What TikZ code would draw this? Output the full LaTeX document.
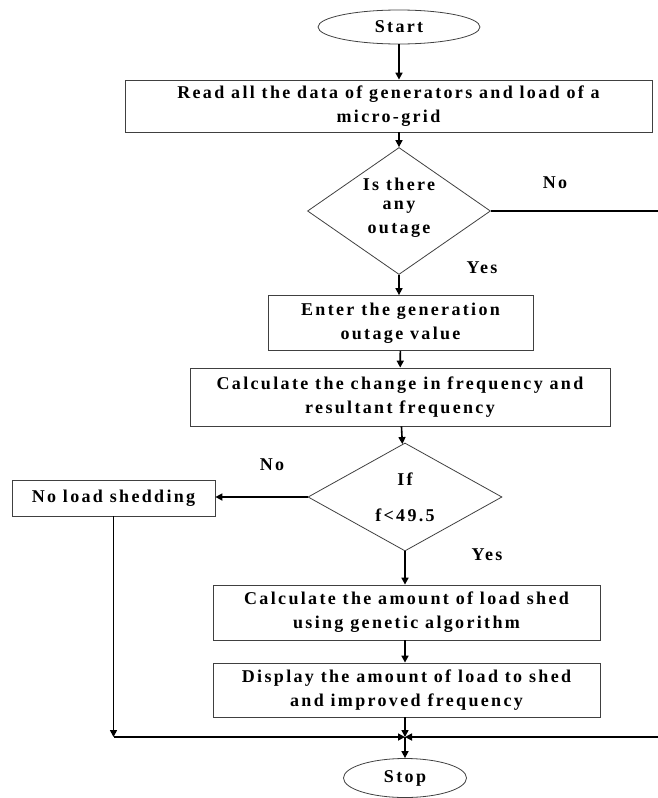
\documentclass[tikz,border=0pt]{standalone}
\usepackage{fontspec}
\setmainfont{Liberation Serif}[LetterSpace=13]
\usetikzlibrary{shapes.geometric,arrows.meta}

\begin{document}
\begin{tikzpicture}[x=1pt, y=-1pt,
    font=\fontsize{18}{24}\selectfont\bfseries,
    processBox/.style={draw=black!75, line width=0.8pt, rectangle, align=center, inner sep=0pt},
    decisionBox/.style={draw=black!75, line width=0.8pt, diamond, aspect=1.44, align=center, inner sep=0pt},
    terminalNode/.style={draw=black!75, line width=0.8pt, ellipse, inner sep=0pt},
    flowArrow/.style={line width=1.6pt, -{Triangle[length=7pt,width=7pt]}}]

    \useasboundingbox (0,0) rectangle (657,798);

    % Terminals
    \node[terminalNode, minimum width=162pt, minimum height=34pt] (start) at (399,27) {Start};
    \node[terminalNode, minimum width=123pt, minimum height=39pt] (stop) at (405,778) {Stop};

    % Process boxes
    \node[processBox, minimum width=527pt, minimum height=52pt] (readData) at (388.5,106)
        {Read all the data of generators and load of a\\micro-grid};
    \node[processBox, minimum width=265pt, minimum height=55pt] (enterOutage) at (400.5,323)
        {Enter the generation\\outage value};
    \node[processBox, minimum width=420pt, minimum height=58pt] (calcFreq) at (400,397)
        {Calculate the change in frequency and\\resultant frequency};
    \node[processBox, minimum width=203pt, minimum height=36pt] (noShed) at (113.5,498)
        {No load shedding};
    \node[processBox, minimum width=387pt, minimum height=55pt] (calcShed) at (406.5,612.5)
        {Calculate the amount of load shed\\using genetic algorithm};
    \node[processBox, minimum width=387pt, minimum height=54pt] (showResult) at (406.5,690)
        {Display the amount of load to shed\\and improved frequency};

    % Decisions
    \node[decisionBox, minimum width=183pt, minimum height=127pt] (outageCheck) at (399,211)
        {\raisebox{0pt}[\height][\dimexpr\depth+6pt\relax]{\shortstack{Is there\\[7pt]any\\[7pt]outage}}};
    \node[decisionBox, aspect=1.8, minimum width=194pt, minimum height=108pt] (freqCheck) at (405,497)
        {If\\[12pt]f<49.5};

    % Branch labels
    \node (noOutage) at (555,183) {No};
    \node (yesOutage) at (482,268) {Yes};
    \node (noLow) at (272,465) {No};
    \node (yesLow) at (487,555) {Yes};

    % Junction points
    \coordinate (mergePoint) at (405,737);
    \coordinate (rightTurn) at (668,737);

    % Main flow
    \draw[flowArrow] (start) -- (start |- readData.north);
    \draw[flowArrow] (readData.south -| outageCheck) -- (outageCheck);
    \draw[flowArrow] (outageCheck.south) -- (outageCheck.south |- enterOutage.north);
    \draw[flowArrow] (enterOutage) -- (calcFreq);
    \draw[flowArrow] (calcFreq) -- (freqCheck);
    \draw[flowArrow] (freqCheck.west) -- (freqCheck.west -| noShed.east);
    \draw[flowArrow] (freqCheck.south) -- (freqCheck.south |- calcShed.north);
    \draw[flowArrow] (calcShed.south -| mergePoint) -- (showResult.north -| mergePoint);
    \draw[flowArrow] (showResult.south -| mergePoint) -- (mergePoint);

    % Return lines to the junction
    \draw[flowArrow] (noShed.south) -- (noShed.south |- mergePoint);
    \draw[flowArrow] (noShed.south |- mergePoint) -- (mergePoint);
    \draw[flowArrow] (outageCheck.east) -| (rightTurn) -- (mergePoint);
    \draw[flowArrow] (mergePoint) -- (stop);

\end{tikzpicture}
\end{document}
